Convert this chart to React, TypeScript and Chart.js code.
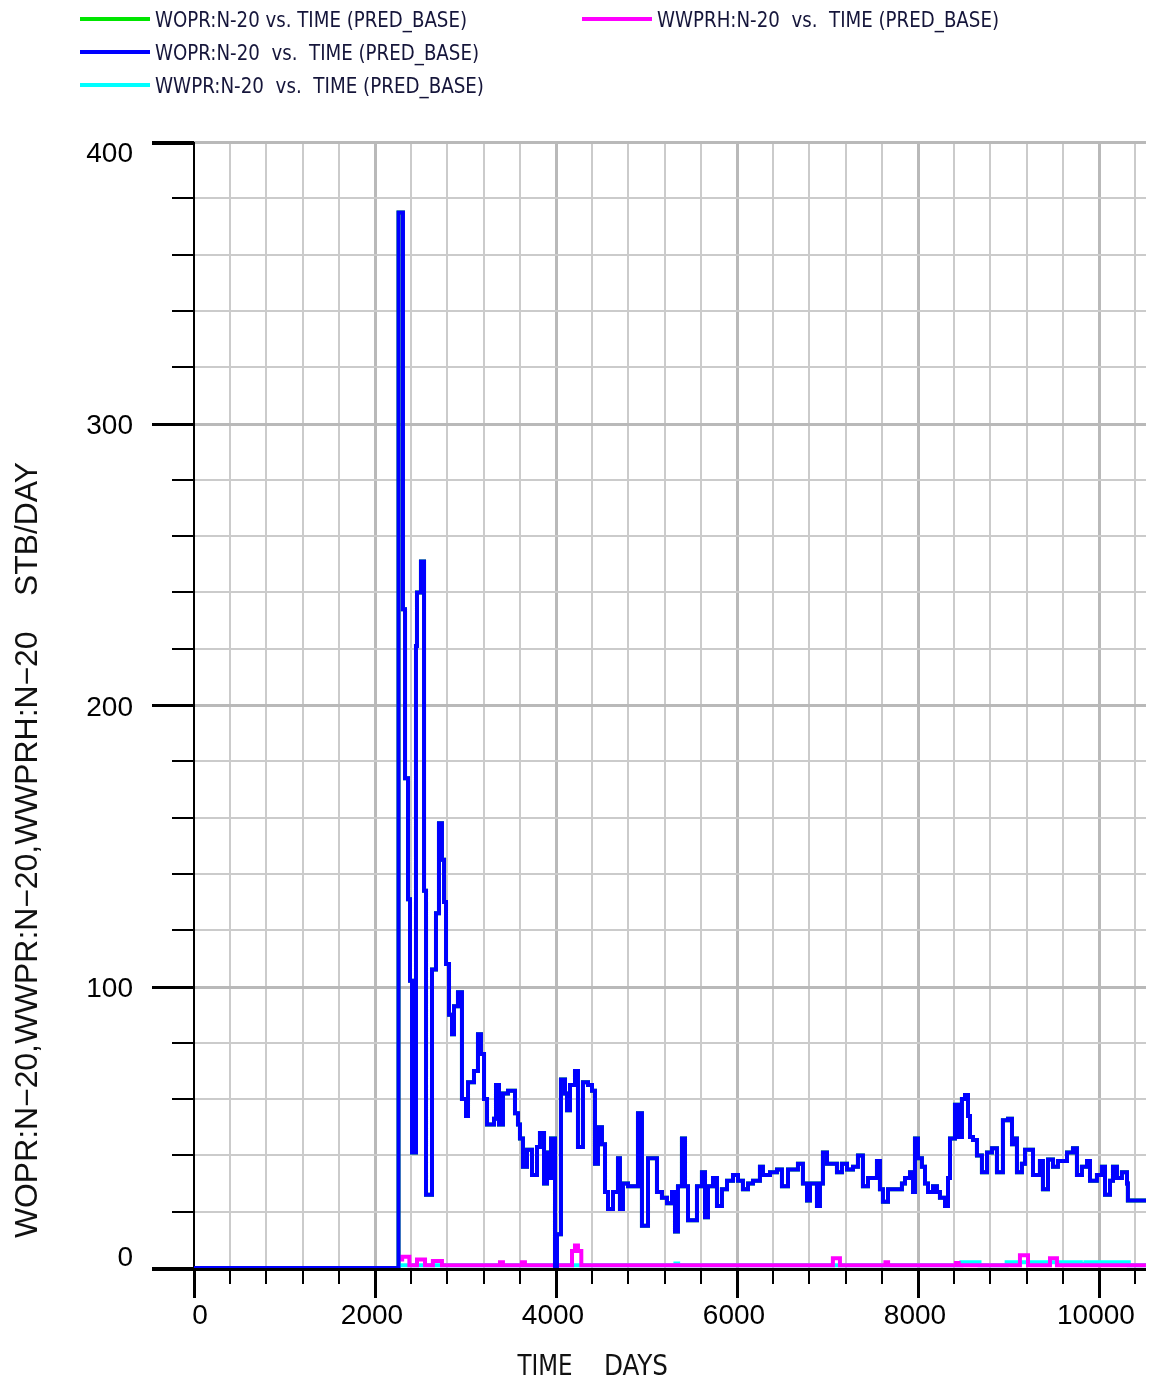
import React, { useEffect, useRef } from "react";
import { Chart, registerables } from "chart.js";

Chart.register(...registerables);

// ---------- data ----------
const WOPR_DAYS = [
  0, 2260, 2309, 2332, 2365, 2387, 2409, 2453, 2464, 2508, 2542, 2564, 2630, 2674, 2707, 2740,
  2763, 2785, 2818, 2851, 2873, 2917, 2961, 3006, 3028, 3094, 3138, 3171, 3205, 3238, 3315, 3337,
  3370, 3414, 3470, 3547, 3580, 3602, 3635, 3680, 3735, 3790, 3823, 3868, 3901, 3923, 3945, 3989,
  4011, 4055, 4100, 4122, 4155, 4210, 4243, 4298, 4354, 4398, 4431, 4464, 4508, 4542, 4575, 4630,
  4685, 4707, 4740, 4796, 4906, 4950, 5017, 5116, 5171, 5227, 5282, 5315, 5348, 5392, 5426, 5459,
  5558, 5613, 5647, 5680, 5735, 5779, 5834, 5890, 5956, 6011, 6066, 6122, 6177, 6254, 6287, 6365,
  6442, 6497, 6564, 6674, 6729, 6774, 6807, 6884, 6917, 6950, 6995, 7105, 7160, 7216, 7282, 7337,
  7392, 7448, 7547, 7580, 7613, 7669, 7823, 7857, 7912, 7945, 7967, 8000, 8044, 8078, 8111, 8166,
  8210, 8243, 8299, 8332, 8354, 8409, 8442, 8486, 8520, 8553, 8575, 8608, 8652, 8707, 8763, 8818,
  8873, 8939, 8995, 9039, 9072, 9094, 9149, 9183, 9271, 9348, 9381, 9437, 9492, 9547, 9647, 9713,
  9757, 9812, 9868, 9901, 9978, 10033, 10067, 10122, 10155, 10199, 10254, 10310, 10320, 10520,
];
const WOPR_VALUES = [
  0, 375, 234, 174, 131, 102, 41, 221, 240, 251, 134, 26, 106, 126, 158, 145,
  130, 108, 90, 83, 93, 98, 60, 54, 66, 70, 83, 76, 60, 51, 53, 65,
  51, 62, 63, 55, 51, 46, 36, 42, 33, 43, 48, 30, 41, 32, 46, 0,
  12, 67, 62, 56, 65, 70, 43, 66, 65, 63, 37, 50, 44, 27, 21, 27,
  39, 21, 30, 29, 55, 15, 39, 27, 25, 23, 27, 13, 29, 46, 29, 17,
  29, 34, 18, 29, 32, 22, 28, 31, 33, 31, 28, 30, 31, 36, 33, 34,
  35, 29, 35, 37, 30, 24, 30, 22, 30, 41, 37, 34, 37, 35, 36, 40,
  29, 32, 38, 28, 23.5, 28, 30, 32, 34, 27, 46, 39, 36, 30, 27, 29,
  27, 25, 22, 32, 46, 58, 46.5, 60, 61.5, 54, 46.5, 45.5, 40, 34, 41, 42.5,
  34, 52.5, 53, 44, 46, 34, 37, 42, 33, 38, 28, 38.5, 36, 38, 41, 42.5,
  33, 36, 38, 31, 33, 36, 26, 31, 36, 32, 34, 30, 24, 24,
];

const WWPRH_DAYS = [
  2260, 2300, 2380, 2464, 2553, 2640, 2740, 3381, 3414, 3624, 3657, 4177, 4210, 4243, 4280,
  7060, 7138, 7640, 7670, 8420, 8450, 9127, 9216, 9459, 9536, 10520,
];
const WWPRH_VALUES = [
  3, 4, 1, 3, 1, 2.5, 1, 2, 1, 2, 1, 6, 8, 6, 1,
  3.5, 1, 2, 1, 1.8, 1, 4.5, 1, 3.5, 1, 1,
];

const WWPR_DAYS = [2260, 5320, 5350, 8480, 8680, 8980, 9800, 9850, 10330, 10520];
const WWPR_VALUES = [1, 1.6, 1, 2, 1, 2, 1.4, 2, 1, 1];

const X_MAX = 10520;
const Y_MAX = 400;
const X_MAJOR = 2000;
const X_MINOR = 400;
const Y_MAJOR = 100;
const Y_MINOR = 20;
const X_TICK_LABELS = ["0", "2000", "4000", "6000", "8000", "10000"];
const Y_TICK_LABELS = ["0", "100", "200", "300", "400"];

const LEGEND_LABELS = [
  "WOPR:N-20 vs. TIME (PRED_BASE)",
  "WWPRH:N-20  vs.  TIME (PRED_BASE)",
  "WOPR:N-20  vs.  TIME (PRED_BASE)",
  "WWPR:N-20  vs.  TIME (PRED_BASE)",
];
const Y_TITLE = "WOPR:N\u221220,WWPR:N\u221220,WWPRH:N\u221220    STB/DAY";
const X_TITLE_PARTS = ["TIME", "DAYS"];

// ---------- styles ----------
const GREEN = "#00e600";
const MAGENTA = "#ff00ff";
const BLUE = "#0000ff";
const CYAN = "#00ffff";
const GRID_MAJOR = "#b9b9b9";
const GRID_MINOR = "#cbcbcb";
const NARROW = '"Liberation Sans Narrow", "DejaVu Sans Condensed", "Liberation Sans", sans-serif';
const REGULAR = '"Liberation Sans", Arial, sans-serif';

function pts(days: number[], vals: number[]) {
  return days.map((d, i) => ({ x: d, y: vals[i] }));
}

function fitText(
  ctx: CanvasRenderingContext2D,
  text: string,
  x: number,
  y: number,
  width: number,
  font: string,
  align: "left" | "center"
) {
  ctx.save();
  ctx.font = font;
  const w = ctx.measureText(text).width;
  const s = width / w;
  ctx.translate(x, y);
  ctx.scale(s, 1);
  ctx.textAlign = "left";
  ctx.textBaseline = "middle";
  ctx.fillText(text, align === "center" ? -w / 2 : 0, 0);
  ctx.restore();
}

const decorPlugin = {
  id: "decor",
  beforeDatasetsDraw(chart: any) {
    const ctx: CanvasRenderingContext2D = chart.ctx;
    const xs = chart.scales.x;
    const ys = chart.scales.y;
    const { left, right, top, bottom } = chart.chartArea;
    const x0 = xs.getPixelForValue(0);
    const y0 = ys.getPixelForValue(0);
    const yTop = ys.getPixelForValue(Y_MAX);
    ctx.save();
    // grid: vertical
    for (let v = X_MINOR; v <= X_MAX; v += X_MINOR) {
      const px = Math.round(xs.getPixelForValue(v));
      const major = v % X_MAJOR === 0;
      ctx.fillStyle = major ? GRID_MAJOR : GRID_MINOR;
      ctx.fillRect(px - 1, top, major ? 3 : 2, bottom - top);
    }
    // grid: horizontal
    for (let v = Y_MINOR; v <= Y_MAX; v += Y_MINOR) {
      const py = Math.round(ys.getPixelForValue(v));
      const major = v % Y_MAJOR === 0;
      ctx.fillStyle = major ? GRID_MAJOR : GRID_MINOR;
      ctx.fillRect(left, py - 1, right - left, major ? 3 : 2);
    }
    ctx.fillStyle = "#000";
    // x axis line
    ctx.fillRect(x0 - 42, y0, right - (x0 - 42), 3);
    // y axis line
    ctx.fillRect(x0 - 1, yTop, 2, y0 - yTop + 30);
    ctx.restore();
  },
  afterDraw(chart: any) {
    const ctx: CanvasRenderingContext2D = chart.ctx;
    const xs = chart.scales.x;
    const ys = chart.scales.y;
    const x0 = xs.getPixelForValue(0);
    const y0 = ys.getPixelForValue(0);
    ctx.save();
    ctx.fillStyle = "#000";
    // y ticks
    for (let v = 0; v <= Y_MAX; v += Y_MINOR) {
      const py = Math.round(ys.getPixelForValue(v));
      if (v === Y_MAX) ctx.fillRect(x0 - 42, py - 1, 42, 4);
      else if (v % Y_MAJOR === 0) ctx.fillRect(x0 - 42, py - 1, 42, 3);
      else ctx.fillRect(x0 - 22, py - 1, 22, 2);
    }
    // x ticks
    for (let v = 0; v <= X_MAX; v += X_MINOR) {
      const px = Math.round(xs.getPixelForValue(v));
      if (v % X_MAJOR === 0) ctx.fillRect(px - 1, y0, 3, 30);
      else ctx.fillRect(px - 1, y0, 2, 16);
    }
    // y tick labels
    ctx.font = `28px ${REGULAR}`;
    ctx.textAlign = "right";
    ctx.textBaseline = "middle";
    Y_TICK_LABELS.forEach((lab, i) => {
      const v = i * Y_MAJOR;
      let py = ys.getPixelForValue(v) + 3;
      if (v === Y_MAX) py += 9;
      if (v === 0) py -= 13;
      ctx.fillText(lab, x0 - 61, py);
    });
    // x tick labels
    ctx.textAlign = "center";
    X_TICK_LABELS.forEach((lab, i) => {
      const v = i * X_MAJOR;
      let px = xs.getPixelForValue(v);
      if (v === 0) px += 6;
      else px -= 3;
      ctx.fillText(lab, px, y0 + 48);
    });
    // axis titles
    ctx.fillStyle = "#111";
    fitText(ctx, X_TITLE_PARTS[0], 545, 1368, 55, `28px ${NARROW}`, "center");
    fitText(ctx, X_TITLE_PARTS[1], 636, 1368, 64, `28px ${NARROW}`, "center");
    ctx.save();
    ctx.translate(28, 850);
    ctx.rotate(-Math.PI / 2);
    fitText(ctx, Y_TITLE, 0, 0, 776, `31px ${REGULAR}`, "center");
    ctx.restore();
    // legend
    const items = [
      { color: GREEN, x: 80, y: 19, label: LEGEND_LABELS[0], w: 312 },
      { color: MAGENTA, x: 582, y: 19, label: LEGEND_LABELS[1], w: 342 },
      { color: BLUE, x: 80, y: 52, label: LEGEND_LABELS[2], w: 324 },
      { color: CYAN, x: 80, y: 85, label: LEGEND_LABELS[3], w: 329 },
    ];
    items.forEach((it) => {
      ctx.fillStyle = it.color;
      ctx.fillRect(it.x, it.y - 2, 70, 4);
      ctx.fillStyle = "#15153a";
      fitText(ctx, it.label, it.x + 75, it.y + 2, it.w, `22px ${NARROW}`, "left");
    });
    ctx.restore();
  },
};

export default function App() {
  const ref = useRef<HTMLCanvasElement | null>(null);
  useEffect(() => {
    if (!ref.current) return;
    const common = {
      stepped: true,
      pointRadius: 0,
      borderWidth: 4,
      fill: false,
      tension: 0,
      borderJoinStyle: "miter",
      borderCapStyle: "butt",
    };
    const chart = new Chart(ref.current, {
      type: "line",
      data: {
        datasets: [
          { ...common, label: LEGEND_LABELS[0], data: pts(WOPR_DAYS, WOPR_VALUES), borderColor: GREEN, order: 3 },
          { ...common, label: LEGEND_LABELS[1], data: pts(WWPRH_DAYS, WWPRH_VALUES), borderColor: MAGENTA, order: 1 },
          { ...common, label: LEGEND_LABELS[2], data: pts(WOPR_DAYS, WOPR_VALUES), borderColor: BLUE, order: 0 },
          { ...common, label: LEGEND_LABELS[3], data: pts(WWPR_DAYS, WWPR_VALUES), borderColor: CYAN, order: 2 },
        ] as any,
      },
      options: {
        responsive: false,
        animation: false,
        devicePixelRatio: 1,
        events: [],
        layout: { padding: { left: 0, top: 142, right: 6, bottom: 0 } },
        plugins: { legend: { display: false }, tooltip: { enabled: false }, title: { display: false } },
        scales: {
          x: {
            type: "linear",
            min: 0,
            max: X_MAX,
            afterFit: (s: any) => {
              s.height = 119;
            },
            ticks: { stepSize: X_MINOR, display: false, maxTicksLimit: 1000 },
            grid: { display: false },
            border: { display: false },
          },
          y: {
            type: "linear",
            min: 0,
            max: Y_MAX,
            afterFit: (s: any) => {
              s.width = 194;
            },
            ticks: { stepSize: Y_MINOR, display: false, maxTicksLimit: 1000 },
            grid: { display: false },
            border: { display: false },
          },
        },
      } as any,
      plugins: [decorPlugin],
    });
    return () => chart.destroy();
  }, []);
  return (
    <div style={{ position: "absolute", left: 0, top: 0, width: 1152, height: 1387, background: "#fff" }}>
      <canvas ref={ref} width={1152} height={1387} style={{ display: "block" }} />
    </div>
  );
}
